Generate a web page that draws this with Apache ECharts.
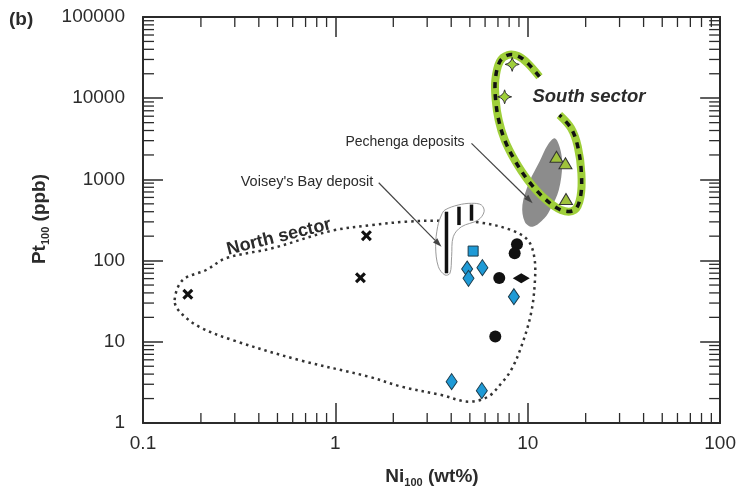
<!DOCTYPE html>
<html>
<head>
<meta charset="utf-8">
<script src="https://cdn.jsdelivr.net/npm/echarts@6/dist/echarts.min.js"></script>
<style>
  html, body { margin: 0; padding: 0; background: #fff; }
  #chart { width: 739px; height: 489px; }
</style>
</head>
<body>
<div id="chart"></div>
<script>
const FONT = '"Liberation Sans", Arial, sans-serif';
const INK = '#2b2b2b';

const xTickLabels = ['0.1', '1', '10', '100'];
const yTickLabels = ['1', '10', '100', '1000', '10000', '100000'];

// samples, [Ni100 wt%, Pt100 ppb]
const crosses = [[0.171, 38.5], [1.45, 203], [1.35, 61.5]];
const blueSquares = [[5.2, 131]];
const blueDiamonds = [[4.84, 78.8], [4.92, 60.5], [5.81, 81.8], [8.47, 35.9], [4.02, 3.23], [5.77, 2.5]];
const blackCircles = [[8.79, 159], [8.55, 123], [7.11, 61], [6.78, 11.6]];
const blackDiamonds = [[9.25, 60.5]];
const greenStars = [[8.3, 26100], [7.58, 10400]];
const greenTriangles = [[14.1, 1905], [15.7, 1578], [15.8, 574]];

// fields drawn on the diagram
const northOutline = [[0.146, 32.7], [0.161, 57.7], [0.213, 76.6], [0.27, 107], [0.469, 142], [0.958, 233],
  [1.55, 274], [2.31, 301], [3.43, 310], [5.52, 296], [8.2, 238], [10.0, 179], [10.8, 112], [10.9, 57.7],
  [10.4, 22.4], [9.25, 8.7], [8.2, 4.5], [7.28, 3.08], [6.22, 2.11], [4.9, 1.83], [3.56, 2.21], [2.21, 2.8],
  [1.49, 3.72], [0.647, 5.97], [0.292, 10.5], [0.196, 15.3], [0.155, 23.5]];
const voiseyOutline = [[3.71, 420], [4.35, 484], [5.1, 508], [5.74, 484], [5.93, 400], [5.52, 316], [4.52, 261],
  [4.1, 197], [4.02, 112], [3.94, 69.8], [3.71, 66.5], [3.43, 84.1], [3.32, 148], [3.4, 261], [3.56, 364]];
const voiseyBars = [[[3.78, 400], [3.78, 69.8]], [[4.39, 461], [4.39, 274]], [[5.1, 490], [5.1, 310]]];
const pechengaOutline = [[13.8, 3210], [14.7, 2440], [15.1, 1500], [14.5, 740], [13.2, 444], [12.2, 332],
  [10.6, 261], [9.66, 299], [9.38, 484], [10.2, 937], [11.5, 1650], [12.7, 2650]];
const southOutline = [[11.5, 18400], [10.0, 26900], [8.89, 33100], [7.89, 34000], [7.15, 28100], [6.78, 16700],
  [6.81, 9500], [7.06, 5390], [7.59, 3050], [8.55, 1730], [10.0, 984], [12.2, 585], [14.9, 420], [17.5, 420],
  [18.8, 612], [19.0, 1190], [18.2, 2530], [16.8, 4260], [14.6, 6210]];
const arrows = [[[5.1, 2780], [10.6, 508]], [[1.68, 910], [3.56, 148]]];

const xDecades = [0.1, 1, 10];
const yDecades = [1, 10, 100, 1000, 10000];
const minorSteps = [2, 3, 4, 5, 6, 7, 8, 9];

const chart = echarts.init(document.getElementById('chart'));

function baseAxis(type, pos, min, max, labels) {
  return {
    type: 'log', logBase: 10, min: min, max: max, position: pos,
    axisLine: { show: true, onZero: false, lineStyle: { color: INK, width: 2 } },
    axisTick: { show: true, inside: true, length: 20, lineStyle: { color: INK, width: 1.5 } },
    axisLabel: labels ? {
      show: true, fontSize: 19, color: INK, fontFamily: FONT,
      margin: type === 'x' ? 11 : 18,
      formatter: (v, i) => labels[i]
    } : { show: false },
    splitLine: { show: false }
  };
}

function outline(pts, kind, style, z) {
  return {
    type: 'custom', silent: true, clip: false, z: z,
    data: [pts[0]],
    renderItem: (params, api) => ({
      type: kind,
      shape: { points: pts.map(p => api.coord(p)), smooth: 0.35 },
      style: style
    })
  };
}

const minorTicks = {
  type: 'custom', silent: true, clip: false, z: 3,
  data: [[1, 1]],
  renderItem: (params, api) => {
    const lo = api.coord([0.1, 1]);
    const hi = api.coord([100, 100000]);
    const st = { stroke: INK, lineWidth: 1.3 };
    const kids = [];
    xDecades.forEach(d => minorSteps.forEach(m => {
      const x = api.coord([d * m, 1])[0];
      kids.push({ type: 'line', shape: { x1: x, y1: lo[1], x2: x, y2: lo[1] - 10 }, style: st });
      kids.push({ type: 'line', shape: { x1: x, y1: hi[1], x2: x, y2: hi[1] + 10 }, style: st });
    }));
    yDecades.forEach(d => minorSteps.forEach(m => {
      const y = api.coord([1, d * m])[1];
      kids.push({ type: 'line', shape: { x1: lo[0], y1: y, x2: lo[0] + 11, y2: y }, style: st });
      kids.push({ type: 'line', shape: { x1: hi[0], y1: y, x2: hi[0] - 11, y2: y }, style: st });
    }));
    return { type: 'group', children: kids };
  }
};

const voiseyBarSeries = {
  type: 'custom', silent: true, clip: false, z: 5,
  data: [voiseyBars[0][0]],
  renderItem: (params, api) => ({
    type: 'group',
    children: voiseyBars.map(b => {
      const p0 = api.coord(b[0]), p1 = api.coord(b[1]);
      return { type: 'line', shape: { x1: p0[0], y1: p0[1], x2: p1[0], y2: p1[1] },
        style: { stroke: '#111', lineWidth: 3.5 } };
    })
  })
};

const arrowSeries = {
  type: 'custom', silent: true, clip: false, z: 6,
  data: [arrows[0][0]],
  renderItem: (params, api) => {
    const kids = [];
    arrows.forEach(a => {
      const p0 = api.coord(a[0]), p1 = api.coord(a[1]);
      const ang = Math.atan2(p1[1] - p0[1], p1[0] - p0[0]);
      const c = Math.cos(ang), s = Math.sin(ang);
      const bx = p1[0] - 9 * c, by = p1[1] - 9 * s;
      kids.push({ type: 'line', shape: { x1: p0[0], y1: p0[1], x2: bx, y2: by },
        style: { stroke: '#444', lineWidth: 1.2 } });
      kids.push({ type: 'polygon', shape: { points: [p1, [bx - 3 * s, by + 3 * c], [bx + 3 * s, by - 3 * c]] },
        style: { fill: '#444' } });
    });
    return { type: 'group', children: kids };
  }
};

function scatter(data, symbol, size, fill, border, z) {
  return {
    type: 'scatter', data: data, symbol: symbol, symbolSize: size, z: z || 10,
    itemStyle: { color: fill, borderColor: border, borderWidth: border ? 1 : 0, opacity: 1 }
  };
}

const crossPath = 'path://M0,2 L2,0 L5,3 L8,0 L10,2 L7,5 L10,8 L8,10 L5,7 L2,10 L0,8 L3,5 Z';
const starPath = 'path://M5,0 Q5.8,4.2 10,5 Q5.8,5.8 5,10 Q4.2,5.8 0,5 Q4.2,4.2 5,0 Z';

chart.setOption({
  animation: false,
  backgroundColor: '#fff',
  grid: { left: 143, top: 17, width: 580, height: 406 },
  xAxis: [baseAxis('x', 'bottom', 0.1, 100, xTickLabels), baseAxis('x', 'top', 0.1, 100, null)],
  yAxis: [baseAxis('y', 'left', 1, 100000, yTickLabels), baseAxis('y', 'right', 1, 100000, null)],
  series: [
    minorTicks,
    outline(northOutline, 'polygon', { fill: 'none', stroke: '#333', lineWidth: 2.5, lineDash: [2.5, 4] }, 2),
    outline(voiseyOutline, 'polygon', { fill: '#fff', stroke: '#9a9a9a', lineWidth: 1 }, 4),
    voiseyBarSeries,
    outline(pechengaOutline, 'polygon', { fill: '#8c8c8c', stroke: 'none' }, 4),
    outline(southOutline, 'polyline', { fill: 'none', stroke: '#9fcf3a', lineWidth: 8 }, 5),
    outline(southOutline, 'polyline', { fill: 'none', stroke: '#111', lineWidth: 3.5, lineDash: [6, 6] }, 5),
    arrowSeries,
    scatter(crosses, crossPath, 11, '#111', null),
    scatter(blueSquares, 'rect', 10, '#1e9ad6', '#1b3a4a'),
    scatter(blueDiamonds, 'diamond', [11, 16], '#1e9ad6', '#1b3a4a'),
    scatter(blackCircles, 'circle', 12, '#111', null),
    scatter(blackDiamonds, 'diamond', [17, 10], '#111', null),
    scatter(greenStars, starPath, 14, '#9fcf3a', '#333'),
    scatter(greenTriangles, 'triangle', [13, 11], '#9fc23c', '#333')
  ],
  graphic: [
    { type: 'text', left: 9, top: 10, style: { text: '(b)', font: 'bold 19px ' + FONT, fill: INK } },
    { type: 'text', x: 432, y: 477, style: {
      text: '{b|Ni}{s|100}{b| (wt%)}', align: 'center', verticalAlign: 'middle',
      rich: { b: { font: 'bold 19px ' + FONT, fill: INK, lineHeight: 22 },
              s: { font: 'bold 11px ' + FONT, fill: INK, lineHeight: 22, verticalAlign: 'bottom', padding: [6, 0, 0, 0] } } } },
    { type: 'text', x: 40, y: 219, rotation: Math.PI / 2, style: {
      text: '{b|Pt}{s|100}{b| (ppb)}', align: 'center', verticalAlign: 'middle',
      rich: { b: { font: 'bold 19px ' + FONT, fill: INK, lineHeight: 22 },
              s: { font: 'bold 11px ' + FONT, fill: INK, lineHeight: 22, verticalAlign: 'bottom', padding: [6, 0, 0, 0] } } } },
    { type: 'text', x: 279, y: 237, rotation: 14 * Math.PI / 180, z: 20, style: {
      text: 'North sector', font: 'bold 18px ' + FONT, fill: INK, align: 'center', verticalAlign: 'middle' } },
    { type: 'text', x: 589, y: 97, z: 20, style: {
      text: 'South sector', font: 'italic bold 18.5px ' + FONT, fill: INK, align: 'center', verticalAlign: 'middle' } },
    { type: 'text', x: 405, y: 142, z: 20, style: {
      text: 'Pechenga deposits', font: '14px ' + FONT, fill: INK, align: 'center', verticalAlign: 'middle' } },
    { type: 'text', x: 307, y: 182, z: 20, style: {
      text: "Voisey's Bay deposit", font: '14.5px ' + FONT, fill: INK, align: 'center', verticalAlign: 'middle' } }
  ]
});
</script>
</body>
</html>
